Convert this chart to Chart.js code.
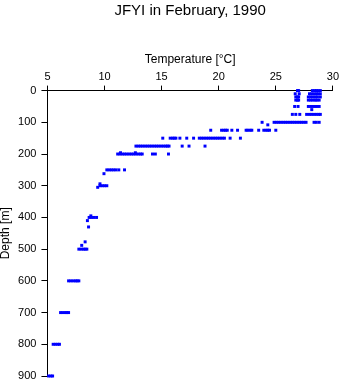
<!DOCTYPE html>
<html>
<head>
<meta charset="utf-8">
<script src="https://cdn.jsdelivr.net/npm/chart.js@4/dist/chart.umd.min.js"></script>
<style>
  html, body { margin: 0; padding: 0; background: #fff; }
  #wrap { width: 341px; height: 384px; }
</style>
</head>
<body>
<div id="wrap"><canvas id="profileChart"></canvas></div>
<script>
// Standard sampling depths (m) and the temperatures (°C) read at each one
const depths = [0, 10, 20, 30, 50, 60, 75, 100, 108, 125, 150, 175, 196, 200,
                250, 262, 294, 300, 305, 395, 400, 410, 430, 477, 488, 500,
                600, 700, 800, 900];
const temperatures = [
    [26.9, 27.0, 28.2, 28.4, 28.55, 28.7, 28.9],
    [26.7, 27.05, 27.95, 28.15, 28.35, 28.55, 28.7, 28.9],
    [26.75, 26.9, 27.0, 27.85, 28.05, 28.25, 28.45, 28.65, 28.9],
    [26.75, 26.9, 27.0, 27.85, 28.05, 28.25, 28.45, 28.6, 28.8],
    [26.65, 26.95, 27.85, 28.05, 28.25, 28.45, 28.6, 28.8],
    [28.15],
    [26.45, 26.75, 27.1, 27.7, 27.95, 28.15, 28.35, 28.55, 28.75, 28.9],
    [23.8, 24.85, 25.05, 25.25, 25.45, 25.65, 25.85, 26.05, 26.25, 26.45, 26.65,
     26.85, 27.05, 27.25, 27.45, 27.65, 28.35, 28.55, 28.8],
    [24.3],
    [19.3, 20.25, 20.45, 20.6, 20.75, 21.15, 21.65, 22.4, 22.55, 22.75, 22.9,
     23.5, 23.95, 24.15, 24.3, 24.45, 25.0],
    [15.1, 15.75, 15.95, 16.1, 16.25, 16.6, 17.2, 17.8, 18.3, 18.5, 18.7, 18.9,
     19.1, 19.3, 19.5, 19.7, 19.9, 20.1, 20.3, 20.5, 21.0, 21.9],
    [12.75, 12.95, 13.15, 13.35, 13.55, 13.75, 13.95, 14.15, 14.35, 14.55, 14.75,
     14.95, 15.15, 15.35, 15.5, 15.65, 16.8, 17.4, 18.8],
    [11.4, 12.7],
    [11.15, 11.35, 11.55, 11.75, 11.95, 12.15, 12.35, 12.55, 12.75, 12.95, 13.15,
     13.3, 14.2, 14.45, 15.6],
    [10.2, 10.4, 10.6, 10.8, 11.0, 11.25, 11.75],
    [9.95],
    [9.6],
    [9.6, 9.8, 10.0, 10.2],
    [9.4],
    [8.8],
    [8.65, 8.85, 9.05, 9.3],
    [8.5],
    [8.6],
    [8.3],
    [8.0],
    [7.75, 7.95, 8.15, 8.3, 8.45],
    [6.85, 7.05, 7.25, 7.45, 7.6, 7.75],
    [6.15, 6.35, 6.55, 6.7, 6.85],
    [5.5, 5.7, 5.9, 6.05],
    [5.1, 5.3, 5.45]
];
const tempTicks = [5, 10, 15, 20, 25, 30];
const depthTicks = [0, 100, 200, 300, 400, 500, 600, 700, 800, 900];

const points = [];
depths.forEach((d, i) => {
    temperatures[i].forEach(t => points.push({ x: t, y: d }));
});

Chart.defaults.font.family = '"Liberation Sans", Arial, sans-serif';
Chart.defaults.color = '#000';

const ctx = document.getElementById('profileChart').getContext('2d');
const profileChart = new Chart(ctx, {
    type: 'scatter',
    data: {
        datasets: [{
            label: 'Temperature',
            data: points,
            backgroundColor: '#0000ff',
            borderWidth: 0,
            pointStyle: 'rect',
            pointRadius: 2.1,
            clip: false
        }]
    },
    options: {
        responsive: true,
        maintainAspectRatio: false,
        animation: false,
        layout: { padding: { left: -1.3, right: 3, top: 0, bottom: 0 } },
        plugins: {
            legend: { display: false },
            tooltip: { enabled: false },
            title: {
                display: true,
                fullSize: false,
                text: 'JFYI in February, 1990',
                font: { size: 15, weight: 'normal' },
                padding: { top: 2, bottom: 32 }
            }
        },
        scales: {
            x: {
                type: 'linear',
                position: 'top',
                min: 5,
                max: 30,
                afterBuildTicks: axis => { axis.ticks = tempTicks.map(v => ({ value: v })); },
                ticks: { font: { size: 11 }, padding: 2, maxRotation: 0 },
                grid: { drawOnChartArea: false, tickLength: 5, color: '#000' },
                border: { color: '#000' },
                title: {
                    display: true,
                    text: 'Temperature [°C]',
                    font: { size: 12 },
                    padding: { top: 0, bottom: 2 }
                }
            },
            y: {
                type: 'linear',
                reverse: true,
                min: 0,
                max: 900,
                afterBuildTicks: axis => { axis.ticks = depthTicks.map(v => ({ value: v })); },
                // keep the axis running almost to the bottom edge, as in the original
                afterFit: axis => { axis.paddingBottom = 8; },
                ticks: { font: { size: 11 }, padding: 5 },
                grid: { drawOnChartArea: false, tickLength: 6, color: '#000' },
                border: { color: '#000' },
                title: {
                    display: true,
                    text: 'Depth [m]',
                    font: { size: 12 },
                    padding: { top: 0, bottom: 0 }
                }
            }
        }
    }
});
</script>
</body>
</html>
